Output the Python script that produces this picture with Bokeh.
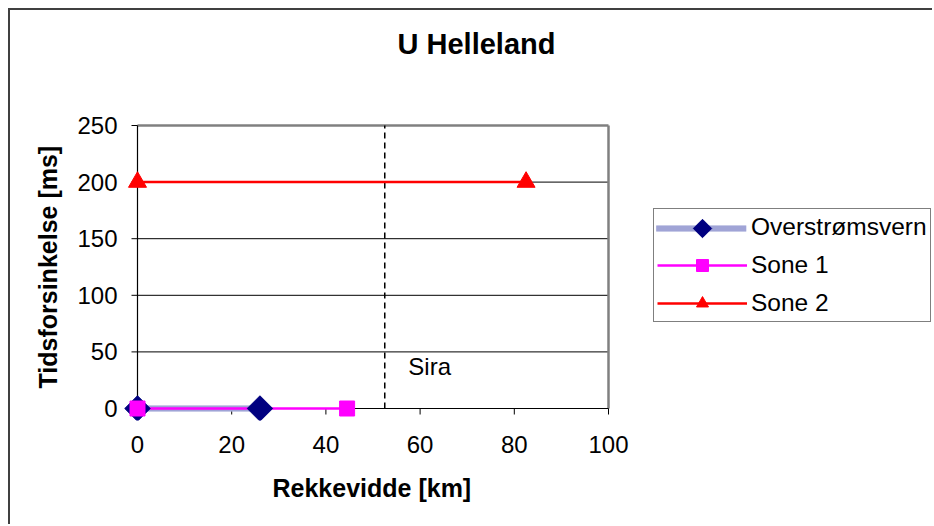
import numpy as np
from bokeh.plotting import figure
from bokeh.models import Range1d, Label, Legend, LegendItem, FixedTicker, Title
from bokeh.embed import file_html
from bokeh.resources import INLINE
from bokeh.core.properties import value

# ---- data ----
title_text = "U Helleland"
x_label = "Rekkevidde [km]"
y_label = "Tidsforsinkelse [ms]"
series_names = ["Overstrømsvern", "Sone 1", "Sone 2"]

over_x = [0, 26]
over_y = [0, 0]
sone1_x = [0, 44.5]
sone1_y = [0, 0]
sone2_x = [0, 82.5]
sone2_y = [200, 200]

sira_x = [52.5]
sira_text = "Sira"
sira_text_x = [57.5]
sira_text_y = [37]

x_ticks = [0, 20, 40, 60, 80, 100]
y_ticks = [0, 50, 100, 150, 200, 250]

FONT = "Liberation Sans"

# ---- layout (pixels) ----
CW, CH = 924, 516          # canvas size (page offset 10,10 via margin+border)
OFF = 10
PLOT_L, PLOT_R, PLOT_T, PLOT_B = 137, 608, 125, 408   # plot area on page
FR_L, FR_B = 122, 420                                  # frame left / bottom on page
TICK = 6
fr_left = FR_L - OFF
min_b_bottom = CH - (FR_B - OFF)

xs = (PLOT_R - PLOT_L) / (x_ticks[-1] - x_ticks[0])
ys = (PLOT_B - PLOT_T) / (y_ticks[-1] - y_ticks[0])
x_start = x_ticks[0] - (PLOT_L - FR_L) / xs
x_end = x_ticks[-1] + (OFF + CW - PLOT_R) / xs
y_start = y_ticks[0] - (FR_B - PLOT_B) / ys
y_end = y_ticks[-1] + (PLOT_T - OFF) / ys


def px_to_data(px, py):
    return x_ticks[0] + (px - PLOT_L) / xs, y_ticks[0] + (PLOT_B - py) / ys


p = figure(width=CW, height=CH, output_backend="svg", toolbar_location=None,
           x_range=Range1d(x_start, x_end), y_range=Range1d(y_start, y_end),
           min_border_left=fr_left, min_border_right=0,
           min_border_top=0, min_border_bottom=min_b_bottom)
p.styles = {"margin-left": "8px", "margin-top": "8px",
            "border-top": "2px solid #404040", "border-left": "2px solid #404040"}
p.outline_line_color = None
p.background_fill_color = "white"
p.border_fill_color = "white"
p.xgrid.visible = False
p.ygrid.visible = False

# label axes (at the frame edge, no line / ticks)
for ax in (p.xaxis[0], p.yaxis[0]):
    ax.axis_line_color = None
    ax.major_tick_line_color = None
    ax.major_tick_out = 0
    ax.major_tick_in = 0
    ax.minor_tick_line_color = None
    ax.major_label_text_font = FONT
    ax.major_label_text_font_size = "24px"
    ax.major_label_text_color = "black"
p.xaxis.ticker = FixedTicker(ticks=x_ticks)
p.yaxis.ticker = FixedTicker(ticks=y_ticks)
p.xaxis.bounds = (x_ticks[0], x_ticks[-1])
p.yaxis.bounds = (y_ticks[0], y_ticks[-1])
p.xaxis.major_label_standoff = 15
p.yaxis.major_label_standoff = 5

# axis titles as side-panel titles (positioned along the plot area)
xt = Title(text=x_label, align="left", vertical_align="top", offset=150, standoff=37,
           text_font=FONT, text_font_size="25px", text_font_style="bold", text_color="black")
p.add_layout(xt, "below")
yt = Title(text=y_label, align="left", vertical_align="bottom", offset=32, standoff=26,
           text_font=FONT, text_font_size="25px", text_font_style="bold", text_color="black")
p.add_layout(yt, "left")

# grid lines (only inside the plot area)
gy = y_ticks[1:-1]
p.segment(x0=[x_ticks[0]] * len(gy), x1=[x_ticks[-1]] * len(gy), y0=gy, y1=gy,
          line_color="black", line_width=1)
# top / right plot-area border
p.segment(x0=[x_ticks[0], x_ticks[-1]], x1=[x_ticks[-1], x_ticks[-1]],
          y0=[y_ticks[-1], y_ticks[0]], y1=[y_ticks[-1], y_ticks[-1]],
          line_color="#808080", line_width=2.5)
# axis lines and outward tick marks
p.segment(x0=[x_ticks[0], x_ticks[0]], x1=[x_ticks[-1], x_ticks[0]],
          y0=[y_ticks[0], y_ticks[0]], y1=[y_ticks[0], y_ticks[-1]],
          line_color="black", line_width=1.2)
p.segment(x0=x_ticks, x1=x_ticks, y0=[y_ticks[0]] * len(x_ticks),
          y1=[y_ticks[0] - TICK / ys] * len(x_ticks), line_color="black", line_width=1)
p.segment(x0=[x_ticks[0]] * len(y_ticks), x1=[x_ticks[0] - TICK / xs] * len(y_ticks),
          y0=y_ticks, y1=y_ticks, line_color="black", line_width=1)

# Sira dashed line
p.segment(x0=sira_x, x1=sira_x, y0=[y_ticks[0]], y1=[y_ticks[-1]],
          line_color="black", line_width=1.5, line_dash="6 4")
p.text(x=sira_text_x, y=sira_text_y, text=[sira_text], text_font=value(FONT),
       text_font_size="24px", text_baseline="middle", text_align="left", text_color="black")

# series styles
OV_BASE = dict(line_color="#c4c8ec", line_width=6)
OV_DOTS = dict(line_color="#7c80c0", line_width=6, line_dash="1 1")
OV_MARK = dict(marker="square", angle=np.pi / 4, fill_color="#000080", line_color="#000080")

# lines
l0a = p.line(over_x, over_y, **OV_BASE)
l0b = p.line(over_x, over_y, **OV_DOTS)
l1 = p.line(sone1_x, sone1_y, line_color="#ff00ff", line_width=2.5)
l2 = p.line(sone2_x, sone2_y, line_color="#ff0000", line_width=2.5)

# markers
m0 = p.scatter(over_x, over_y, size=18, **OV_MARK)
m1 = p.scatter(sone1_x, sone1_y, marker="square", size=15,
               fill_color="#ff00ff", line_color="#ff00ff")
m2 = p.scatter(sone2_x, sone2_y, marker="triangle", size=18,
               fill_color="#ff0000", line_color="#ff0000")

# legend (frame-relative position), transparent background
LEG_L, LEG_B = 653, 322
PAD, GW, GH, SP = 3, 90, 30, 8
leg_top = LEG_B - (2 * PAD + 3 * GH + 2 * SP)
# swatch for the first entry (rotated-square marker on the patterned line), drawn under the legend
gx0, gx1 = LEG_L + PAD, LEG_L + PAD + GW
row0 = leg_top + PAD + GH / 2
a = px_to_data(gx0, row0)
b = px_to_data(gx1, row0)
c = px_to_data((gx0 + gx1) / 2 + 1, row0)
p.line([a[0], b[0]], [a[1], b[1]], **OV_BASE)
p.line([a[0], b[0]], [a[1], b[1]], **OV_DOTS)
p.scatter([c[0]], [c[1]], size=13, **OV_MARK)
blank = p.line([], [], line_alpha=0)

legend = Legend(items=[
    LegendItem(label=series_names[0], renderers=[blank]),
    LegendItem(label=series_names[1], renderers=[l1, m1]),
    LegendItem(label=series_names[2], renderers=[l2, m2]),
], location=(LEG_L - FR_L, FR_B - LEG_B))
legend.label_text_font = FONT
legend.label_text_font_size = "24.5px"
legend.label_text_color = "black"
legend.glyph_width = GW
legend.glyph_height = GH
legend.label_height = GH
legend.spacing = SP
legend.padding = PAD
legend.margin = 0
legend.label_standoff = 4
legend.border_line_color = "black"
legend.border_line_width = 1.5
legend.background_fill_color = None
p.add_layout(legend, "center")

# title
title_cx, title_cy = 476, 43.5
p.add_layout(Label(x=title_cx - FR_L, y=FR_B - title_cy, x_units="screen", y_units="screen",
                   text=title_text, text_font=FONT, text_font_size="29px",
                   text_font_style="bold", text_align="center", text_baseline="middle",
                   text_color="black"))

open("out.html", "w").write(file_html(p, INLINE))
